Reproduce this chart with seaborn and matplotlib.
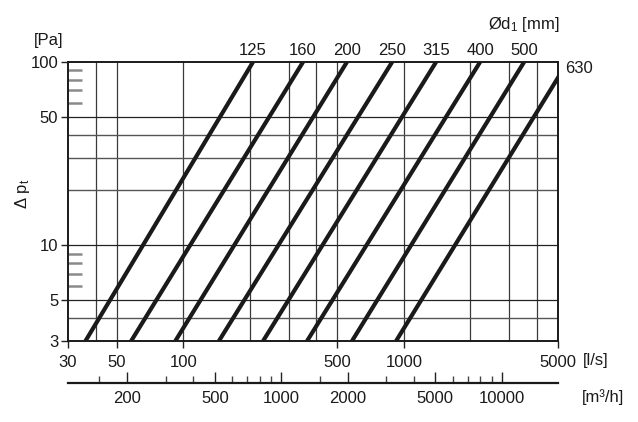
import pandas as pd
import matplotlib
matplotlib.use("Agg")
import matplotlib.pyplot as plt
import numpy as np
import seaborn as sns

# flow [l/s] where each duct line crosses 3 Pa and 100 Pa
diameters = [125, 160, 200, 250, 315, 400, 500, 630]
q_at_3pa = [36, 58, 92, 145, 230, 364, 582, 922]
q_at_100pa = [207, 349, 552, 885, 1400, 2217, 3510, 5529]
dp_ends = [3, 100]

x_ticks = [30, 50, 100, 500, 1000, 5000]
y_ticks = [3, 5, 10, 50, 100]
y_inner_ticks = [6, 7, 8, 9, 60, 70, 80, 90]
x_grid = [40, 50, 100, 200, 300, 400, 500, 1000, 2000, 3000, 4000]
y_grid_dark = [5, 10, 50]
y_grid_gray = [4, 20, 30, 40]
m3h_major = [200, 500, 1000, 2000, 5000, 10000]
m3h_minor = [150, 300, 400, 600, 700, 800, 900, 1500, 3000, 4000, 6000, 7000, 8000, 9000]

rows = []
for d, q3, q100 in zip(diameters, q_at_3pa, q_at_100pa):
    rows.append({"d": str(d), "q": q3, "dp": dp_ends[0]})
    rows.append({"d": str(d), "q": q100, "dp": dp_ends[1]})
df = pd.DataFrame(rows)

sns.set_style("white")
plt.rcParams['font.family'] = ['Liberation Sans', 'DejaVu Sans']
plt.rcParams['mathtext.fontset'] = 'custom'
plt.rcParams['mathtext.rm'] = 'Liberation Sans'
plt.rcParams['mathtext.it'] = 'Liberation Sans:italic'
plt.rcParams['text.color'] = '#1a1a1a'
plt.rcParams['xtick.labelcolor'] = '#1a1a1a'
plt.rcParams['ytick.labelcolor'] = '#1a1a1a'
FS = 12

fig = plt.figure(figsize=(6.38, 4.22), dpi=100)
ax = fig.add_axes([68/638, 1-341/422, 490/638, 279/422])

for x in x_grid:
    ax.axvline(x, color='#3a3a3a', lw=0.9, zorder=1)
for y in y_grid_dark:
    ax.axhline(y, color='#222222', lw=0.9, zorder=1)
for y in y_grid_gray:
    ax.axhline(y, color='#555555', lw=1.0, zorder=1)

sns.lineplot(data=df, x="q", y="dp", units="d", estimator=None,
             color='#1a1a1a', lw=3.0, ax=ax, zorder=3, legend=False)
for line in ax.lines[-len(diameters):]:
    line.set_solid_capstyle('butt')

ax.set_xscale('log')
ax.set_yscale('log')
ax.set_xlim(30, 5000)
ax.set_ylim(3, 100)
ax.set_xticks(x_ticks)
ax.set_xticklabels([str(v) for v in x_ticks])
ax.set_yticks(y_ticks)
ax.set_yticklabels([str(v) for v in y_ticks])
ax.xaxis.set_minor_locator(matplotlib.ticker.NullLocator())
ax.set_yticks(y_inner_ticks, minor=True)
ax.yaxis.set_minor_formatter(matplotlib.ticker.NullFormatter())
ax.tick_params(axis='both', which='major', direction='out', length=5, width=1,
               labelsize=FS, color='#222222', pad=2, bottom=True, left=True)
ax.tick_params(axis='x', which='major', pad=5)
ax.tick_params(axis='y', which='minor', direction='in', length=10, width=1.8,
               color='#8a8a8a', left=True)
ax.set_xlabel('')
ax.set_ylabel('')
for s in ax.spines.values():
    s.set_color('#1a1a1a')
    s.set_linewidth(1.4)

# diameter labels
for d, q100 in zip(diameters[:-1], q_at_100pa[:-1]):
    ax.annotate(str(d), (q100, 100), xytext=(0, 3), textcoords='offset points',
                ha='center', va='bottom', fontsize=FS, annotation_clip=False)
ax.annotate(str(diameters[-1]), (5000, 92), xytext=(5, 0), textcoords='offset points',
            ha='left', va='center', fontsize=FS, annotation_clip=False)

fig.text(488/638, 1-24/422, r'Ød$_1$ [mm]', fontsize=FS, ha='left', va='center')
fig.text(49/638, 1-40/422, '[Pa]', fontsize=FS, ha='center', va='center')
fig.text(22/638, 1-194/422, r'Δ p$_\mathrm{t}$', fontsize=FS, ha='center',
         va='center', rotation=90)
fig.text(583/638, 1-360/422, '[l/s]', fontsize=FS, ha='left', va='center')
fig.text(582/638, 1-397/422, '[m³/h]', fontsize=FS, ha='left', va='center')

# second flow scale in m3/h
ax2 = fig.add_axes([68/638, 1-383/422, 490/638, 0.0001])
ax2.set_xscale('log')
ax2.set_xlim(30*3.6, 5000*3.6)
ax2.set_xticks(m3h_major)
ax2.set_xticklabels([str(v) for v in m3h_major])
ax2.set_xticks(m3h_minor, minor=True)
ax2.xaxis.set_minor_formatter(matplotlib.ticker.NullFormatter())
ax2.set_yticks([])
ax2.tick_params(axis='x', which='major', direction='in', length=8, width=1,
                labelsize=FS, pad=6, color='#222222', bottom=True)
ax2.tick_params(axis='x', which='minor', direction='in', length=5, width=1,
                color='#444444', bottom=True)
for k in ['left', 'right', 'top']:
    ax2.spines[k].set_visible(False)
ax2.spines['bottom'].set_linewidth(1.6)
ax2.spines['bottom'].set_color('#1a1a1a')
ax2.patch.set_visible(False)

fig.savefig('out.png', dpi=100)
